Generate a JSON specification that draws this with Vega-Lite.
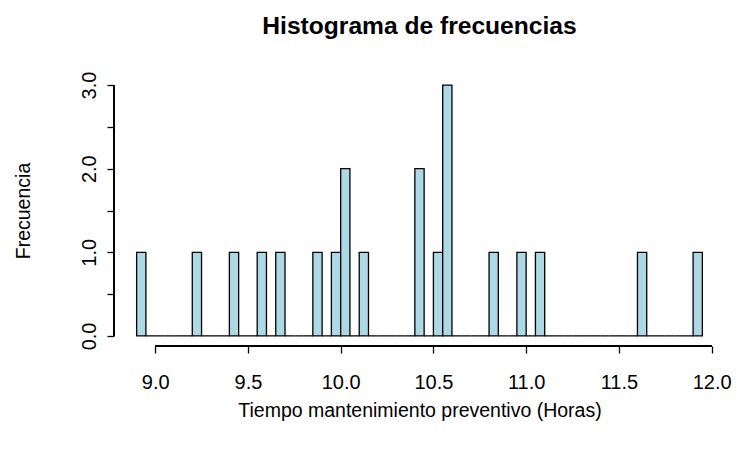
{
  "$schema": "https://vega.github.io/schema/vega-lite/v6.json",
  "autosize": {"type": "none"},
  "width": 611,
  "height": 271,
  "padding": {"left": 114, "top": 75, "right": 12, "bottom": 106},
  "background": "white",
  "title": {
    "text": "Histograma de frecuencias",
    "font": "Liberation Sans",
    "fontSize": 24.6,
    "fontWeight": "bold",
    "color": "black",
    "anchor": "middle",
    "baseline": "alphabetic",
    "offset": 13
  },
  "config": {
    "view": {"stroke": null},
    "axis": {
      "grid": false,
      "domain": false,
      "labelFont": "Liberation Sans",
      "labelFontSize": 20,
      "labelColor": "black",
      "titleFont": "Liberation Sans",
      "titleFontSize": 19.5,
      "titleFontWeight": "normal",
      "titleColor": "black",
      "tickColor": "black",
      "tickWidth": 1.3,
      "tickSize": 7
    }
  },
  "data": {
    "values": [
      {"desde": 8.90, "hasta": 8.95, "n": 1},
      {"desde": 8.95, "hasta": 9.00, "n": 0},
      {"desde": 9.00, "hasta": 9.05, "n": 0},
      {"desde": 9.05, "hasta": 9.10, "n": 0},
      {"desde": 9.10, "hasta": 9.15, "n": 0},
      {"desde": 9.15, "hasta": 9.20, "n": 0},
      {"desde": 9.20, "hasta": 9.25, "n": 1},
      {"desde": 9.25, "hasta": 9.30, "n": 0},
      {"desde": 9.30, "hasta": 9.35, "n": 0},
      {"desde": 9.35, "hasta": 9.40, "n": 0},
      {"desde": 9.40, "hasta": 9.45, "n": 1},
      {"desde": 9.45, "hasta": 9.50, "n": 0},
      {"desde": 9.50, "hasta": 9.55, "n": 0},
      {"desde": 9.55, "hasta": 9.60, "n": 1},
      {"desde": 9.60, "hasta": 9.65, "n": 0},
      {"desde": 9.65, "hasta": 9.70, "n": 1},
      {"desde": 9.70, "hasta": 9.75, "n": 0},
      {"desde": 9.75, "hasta": 9.80, "n": 0},
      {"desde": 9.80, "hasta": 9.85, "n": 0},
      {"desde": 9.85, "hasta": 9.90, "n": 1},
      {"desde": 9.90, "hasta": 9.95, "n": 0},
      {"desde": 9.95, "hasta": 10.00, "n": 1},
      {"desde": 10.00, "hasta": 10.05, "n": 2},
      {"desde": 10.05, "hasta": 10.10, "n": 0},
      {"desde": 10.10, "hasta": 10.15, "n": 1},
      {"desde": 10.15, "hasta": 10.20, "n": 0},
      {"desde": 10.20, "hasta": 10.25, "n": 0},
      {"desde": 10.25, "hasta": 10.30, "n": 0},
      {"desde": 10.30, "hasta": 10.35, "n": 0},
      {"desde": 10.35, "hasta": 10.40, "n": 0},
      {"desde": 10.40, "hasta": 10.45, "n": 2},
      {"desde": 10.45, "hasta": 10.50, "n": 0},
      {"desde": 10.50, "hasta": 10.55, "n": 1},
      {"desde": 10.55, "hasta": 10.60, "n": 3},
      {"desde": 10.60, "hasta": 10.65, "n": 0},
      {"desde": 10.65, "hasta": 10.70, "n": 0},
      {"desde": 10.70, "hasta": 10.75, "n": 0},
      {"desde": 10.75, "hasta": 10.80, "n": 0},
      {"desde": 10.80, "hasta": 10.85, "n": 1},
      {"desde": 10.85, "hasta": 10.90, "n": 0},
      {"desde": 10.90, "hasta": 10.95, "n": 0},
      {"desde": 10.95, "hasta": 11.00, "n": 1},
      {"desde": 11.00, "hasta": 11.05, "n": 0},
      {"desde": 11.05, "hasta": 11.10, "n": 1},
      {"desde": 11.10, "hasta": 11.15, "n": 0},
      {"desde": 11.15, "hasta": 11.20, "n": 0},
      {"desde": 11.20, "hasta": 11.25, "n": 0},
      {"desde": 11.25, "hasta": 11.30, "n": 0},
      {"desde": 11.30, "hasta": 11.35, "n": 0},
      {"desde": 11.35, "hasta": 11.40, "n": 0},
      {"desde": 11.40, "hasta": 11.45, "n": 0},
      {"desde": 11.45, "hasta": 11.50, "n": 0},
      {"desde": 11.50, "hasta": 11.55, "n": 0},
      {"desde": 11.55, "hasta": 11.60, "n": 0},
      {"desde": 11.60, "hasta": 11.65, "n": 1},
      {"desde": 11.65, "hasta": 11.70, "n": 0},
      {"desde": 11.70, "hasta": 11.75, "n": 0},
      {"desde": 11.75, "hasta": 11.80, "n": 0},
      {"desde": 11.80, "hasta": 11.85, "n": 0},
      {"desde": 11.85, "hasta": 11.90, "n": 0},
      {"desde": 11.90, "hasta": 11.95, "n": 1}
    ]
  },
  "layer": [
    {
      "mark": {"type": "rect", "fill": "#ADD8E6", "stroke": "black", "strokeWidth": 1.3},
      "encoding": {
        "x": {
          "field": "desde",
          "type": "quantitative",
          "scale": {"domain": [8.778, 12.072], "nice": false, "zero": false},
          "axis": {
            "values": [9, 9.5, 10, 10.5, 11, 11.5, 12],
            "format": ".1f",
            "labelAngle": 0,
            "labelFlush": false,
            "labelOverlap": false,
            "labelBaseline": "top",
            "labelPadding": 19,
            "title": "Tiempo mantenimiento preventivo (Horas)",
            "titleX": 305.5,
            "titleY": 70,
            "titleAlign": "center",
            "titleBaseline": "alphabetic"
          }
        },
        "x2": {"field": "hasta"},
        "y": {
          "field": "n",
          "type": "quantitative",
          "scale": {"domain": [-0.12, 3.12], "nice": false, "zero": false},
          "axis": {
            "values": [0, 0.5, 1, 1.5, 2, 2.5, 3],
            "labelExpr": "datum.value % 1 === 0 ? format(datum.value, '.1f') : ''",
            "labelAngle": -90,
            "labelAlign": "center",
            "labelBaseline": "alphabetic",
            "labelPadding": 12,
            "labelOverlap": false,
            "labelFlush": false,
            "title": "Frecuencia",
            "titleAngle": -90,
            "titleX": -85,
            "titleY": 135.5,
            "titleAlign": "center",
            "titleBaseline": "alphabetic"
          }
        },
        "y2": {"datum": 0}
      }
    },
    {
      "mark": {"type": "rule", "color": "black", "strokeWidth": 1.3},
      "encoding": {
        "x": {"datum": 9},
        "x2": {"datum": 12},
        "y": {"datum": -0.12}
      }
    },
    {
      "mark": {"type": "rule", "color": "black", "strokeWidth": 1.3},
      "encoding": {
        "x": {"datum": 8.778},
        "y": {"datum": 0},
        "y2": {"datum": 3}
      }
    }
  ]
}
